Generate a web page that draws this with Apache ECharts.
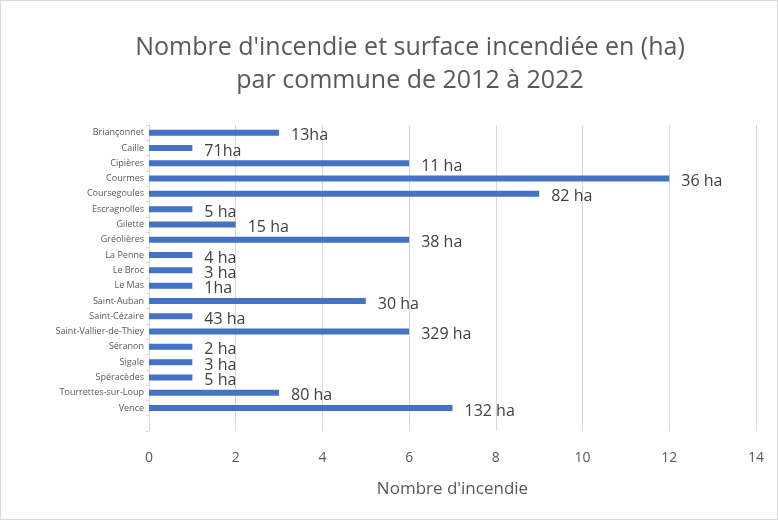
<!DOCTYPE html>
<html>
<head>
<meta charset="utf-8">
<script src="https://cdn.jsdelivr.net/npm/echarts@6/dist/echarts.min.js"></script>
<style>
  html, body { margin: 0; padding: 0; background: #fff; }
  #chart { width: 778px; height: 520px; box-sizing: border-box; border: 1px solid #d9d9d9; }
</style>
</head>
<body>
<div id="chart"></div>
<script>
// communes, top to bottom as in the picture (last row is empty in the original)
const communes = [
  'Briançonnet', 'Caille', 'Cipières', 'Courmes', 'Coursegoules',
  'Escragnolles', 'Gilette', 'Gréolières', 'La Penne', 'Le Broc',
  'Le Mas', 'Saint-Auban', 'Saint-Cézaire', 'Saint-Vallier-de-Thiey', 'Séranon',
  'Sigale', 'Spéracèdes', 'Tourrettes-sur-Loup', 'Vence', ''
]
const nbIncendies = [3, 1, 6, 12, 9, 1, 2, 6, 1, 1, 1, 5, 1, 6, 1, 1, 1, 3, 7, null]
const surfaces = [
  '13ha', '71ha', '11 ha', '36 ha', '82 ha', '5 ha', '15 ha', '38 ha', '4 ha', '3 ha',
  '1ha', '30 ha', '43 ha', '329 ha', '2 ha', '3 ha', '5 ha', '80 ha', '132 ha', ''
]
const xTicks = [0, 2, 4, 6, 8, 10, 12, 14]

const chart = echarts.init(document.getElementById('chart'))
chart.setOption({
  animation: false,
  title: {
    text: "Nombre d'incendie et surface incendiée en (ha)\npar commune de 2012 à 2022",
    left: 404,
    textAlign: 'center',
    top: 25,
    textStyle: {
      fontFamily: 'Open Sans',
      fontSize: 25,
      fontWeight: 'normal',
      color: '#595959',
      lineHeight: 33
    }
  },
  grid: { left: 148, right: 21, top: 124, bottom: 88 },
  xAxis: {
    type: 'value',
    min: xTicks[0],
    max: xTicks[xTicks.length - 1],
    interval: 2,
    name: "Nombre d'incendie",
    nameLocation: 'middle',
    nameGap: 50,
    nameTextStyle: { fontFamily: 'Open Sans', fontSize: 17, color: '#595959' },
    axisLine: { show: false },
    axisTick: { show: false },
    axisLabel: { margin: 20, fontFamily: 'Open Sans', fontSize: 14, color: '#595959' },
    splitLine: { lineStyle: { color: '#d9d9d9' } }
  },
  yAxis: {
    type: 'category',
    data: communes,
    inverse: true,
    axisLine: { lineStyle: { color: '#d9d9d9' } },
    axisTick: { show: true, length: 3, lineStyle: { color: '#d9d9d9' } },
    axisLabel: { fontFamily: 'Open Sans', fontSize: 9, color: '#595959', margin: 5 }
  },
  series: [{
    type: 'bar',
    data: nbIncendies,
    barWidth: 6,
    itemStyle: { color: '#4472c4' },
    label: {
      show: true,
      position: 'right',
      distance: 12,
      offset: [0, 3],
      fontFamily: 'Open Sans',
      fontSize: 16,
      color: '#404040',
      formatter: p => surfaces[p.dataIndex]
    }
  }]
})
</script>
</body>
</html>
